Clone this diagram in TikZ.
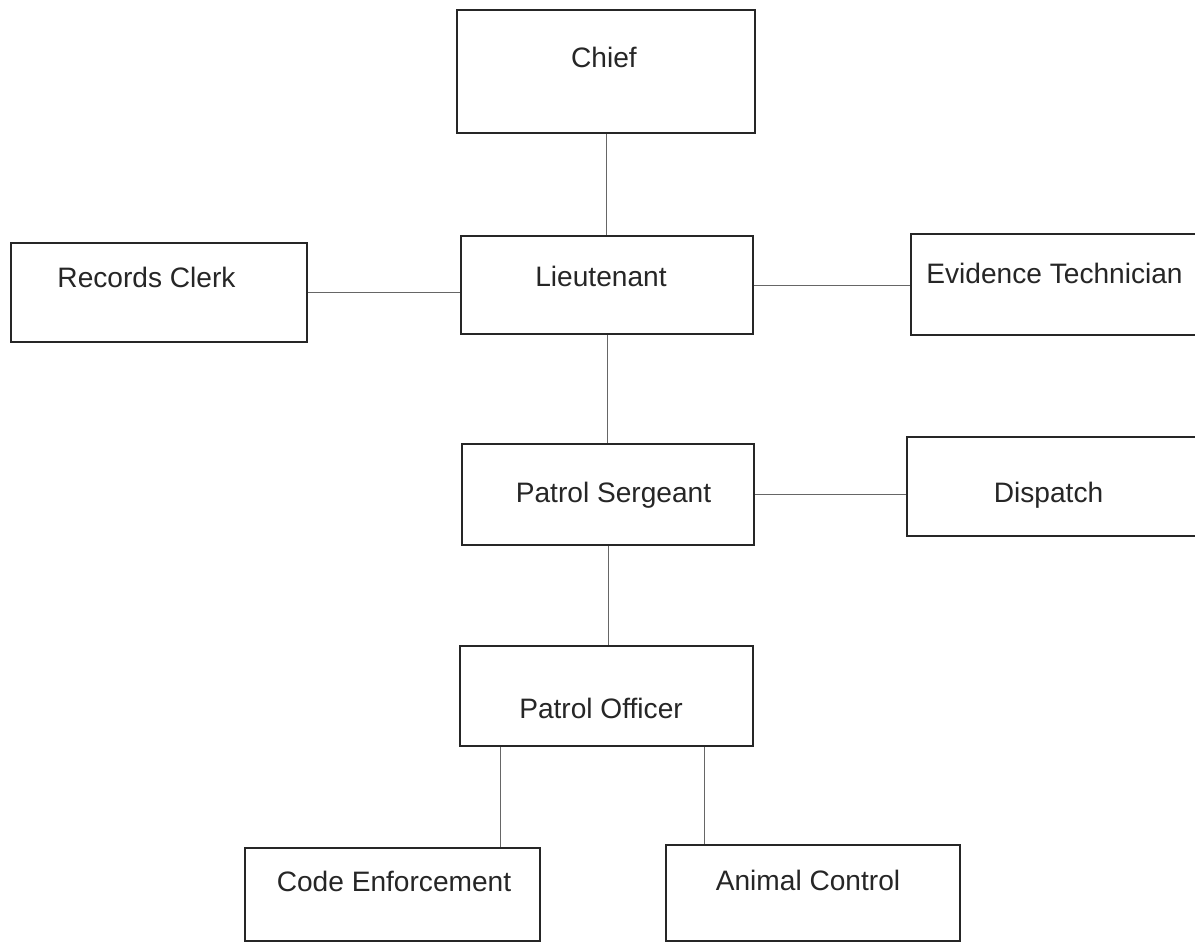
\documentclass[tikz,border=0pt]{standalone}
\usepackage{fontspec}
\setmainfont{Liberation Sans}
\usepackage{tikz}

\begin{document}
\begin{tikzpicture}[x=0.02cm, y=-0.02cm,
	post/.style={draw=black!85, line width=1.3pt, inner sep=0pt},
	title/.style={inner sep=0pt, text height=0pt, text depth=0pt, font=\fontsize{16}{19}\selectfont, text=black!85},
	link/.style={draw=black!60, line width=0.5pt}]
	\clip (0,0) rectangle (1195,946);
	\fill[white] (0,0) rectangle (1195,946);
	% boxes
	\node[post, minimum width=5.96cm, minimum height=2.46cm,
		label={[title, xshift=-0.04cm, yshift=0.09cm]center:Chief}] (chief) at (606,71.5) {};
	\node[post, minimum width=5.84cm, minimum height=1.96cm,
		label={[title, xshift=-0.12cm, yshift=-0.02cm]center:Lieutenant}] (lt) at (607,285) {};
	\node[post, minimum width=5.92cm, minimum height=1.98cm,
		label={[title, xshift=-0.25cm, yshift=0.11cm]center:Records Clerk}] (records) at (159,292.5) {};
	\node[post, minimum width=5.88cm, minimum height=2.02cm,
		label={[title, xshift=-0.07cm, yshift=0.03cm]center:Evidence Technician}] (evidence) at (1058,284.5) {};
	\node[post, minimum width=5.84cm, minimum height=2.02cm,
		label={[title, xshift=0.11cm, yshift=-0.15cm]center:Patrol Sergeant}] (sgt) at (608,494.5) {};
	\node[post, minimum width=5.96cm, minimum height=1.98cm,
		label={[title, xshift=-0.15cm, yshift=-0.31cm]center:Dispatch}] (dispatch) at (1056,486.5) {};
	\node[post, minimum width=5.86cm, minimum height=2.00cm,
		label={[title, xshift=-0.11cm, yshift=-0.44cm]center:Patrol Officer}] (officer) at (606.5,696) {};
	\node[post, minimum width=5.90cm, minimum height=1.86cm,
		label={[title, xshift=0.03cm, yshift=0.07cm]center:Code Enforcement}] (code) at (392.5,894.5) {};
	\node[post, minimum width=5.88cm, minimum height=1.92cm,
		label={[title, xshift=-0.10cm, yshift=0.06cm]center:Animal Control}] (animal) at (813,893) {};
	% connectors
	\draw[link] (chief.south) -- (chief.south |- lt.north);
	\draw[link] (lt.south) -- (lt.south |- sgt.north);
	\draw[link] (sgt.south) -- (sgt.south |- officer.north);
	\draw[link] (records.east) -- (records.east -| lt.west);
	\draw[link] (lt.east) -- (lt.east -| evidence.west);
	\draw[link] (sgt.east) -- (sgt.east -| dispatch.west);
	\draw[link] ([xshift=-2.13cm]officer.south) -- ([xshift=-2.13cm]officer.south |- code.north);
	\draw[link] ([xshift=1.95cm]officer.south) -- ([xshift=1.95cm]officer.south |- animal.north);
\end{tikzpicture}
\end{document}
